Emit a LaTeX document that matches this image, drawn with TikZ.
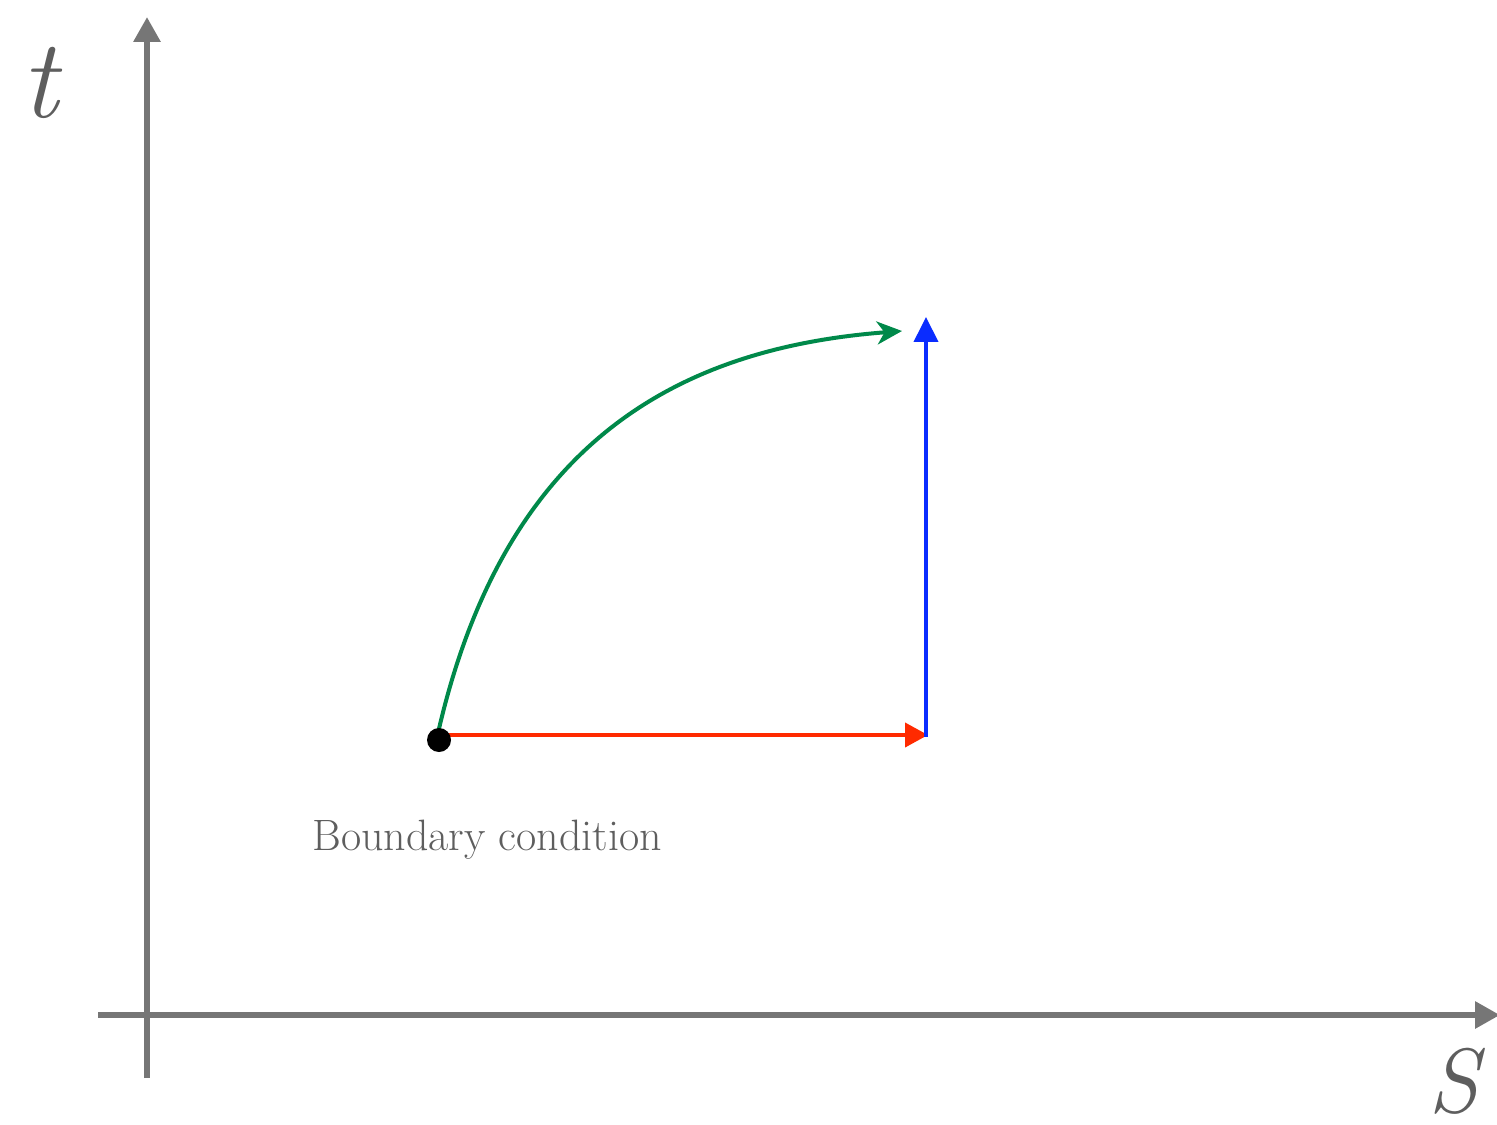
\documentclass[tikz,border=0pt]{standalone}
\usepackage{fontspec}
\setmainfont{Latin Modern Roman}
\usetikzlibrary{arrows.meta}
\definecolor{axisgray}{HTML}{767676}
\definecolor{textgray}{HTML}{5E5E5E}
\definecolor{mygreen}{HTML}{00894A}
\definecolor{myred}{HTML}{FF2A00}
\definecolor{myblue}{HTML}{0A2CFF}
\tikzset{
  axisline/.style={draw=axisgray,line width=0.12cm},
  axistip/.style={-{Triangle[length=0.5cm,width=0.52cm]}},
  pathline/.style={line width=0.08cm},
  lbl/.style={text=textgray,inner sep=0pt},
}
\begin{document}
\begin{tikzpicture}[x=0.02cm,y=-0.02cm]
\useasboundingbox (0,0) rectangle (1497,1125);
% axes
\coordinate (vbot) at (147,1078);
\coordinate (vtop) at (147,17);
\coordinate (hleft) at (98,1015);
\coordinate (hright) at (1500,1015);
\draw[axisline,axistip] (vbot) -- (vtop);
\draw[axisline,axistip] (hleft) -- (hright);
\node[lbl,font=\fontsize{64}{70}\selectfont\itshape,anchor=base] (tl) at (40,118) {t};
\node[lbl,font=\fontsize{52}{60}\selectfont\itshape,anchor=base] (sl) at (1454,1112) {S};
% points
\coordinate (start) at (439,735);
\coordinate (corner) at (928,735);
\coordinate (bluebase) at (926,737);
\coordinate (bluetop) at (926,317);
\coordinate (greenend) at (902,331);
\draw[myred,pathline,-{Triangle[length=0.46cm,width=0.48cm]}] (start) -- (corner);
\draw[myblue,pathline,-{Triangle[length=0.5cm,width=0.48cm]}] (bluebase) -- (bluetop);
\draw[mygreen,pathline,-{Stealth[length=0.5cm,width=0.46cm,inset=0.15cm]}] (438,733) .. controls (505,440) and (680,348) .. (greenend);
\fill[black] (439,740) circle (12);
\node[lbl,font=\fontsize{25}{29}\selectfont,anchor=base west] (bc) at (312,850) {Boundary condition};
\end{tikzpicture}
\end{document}
